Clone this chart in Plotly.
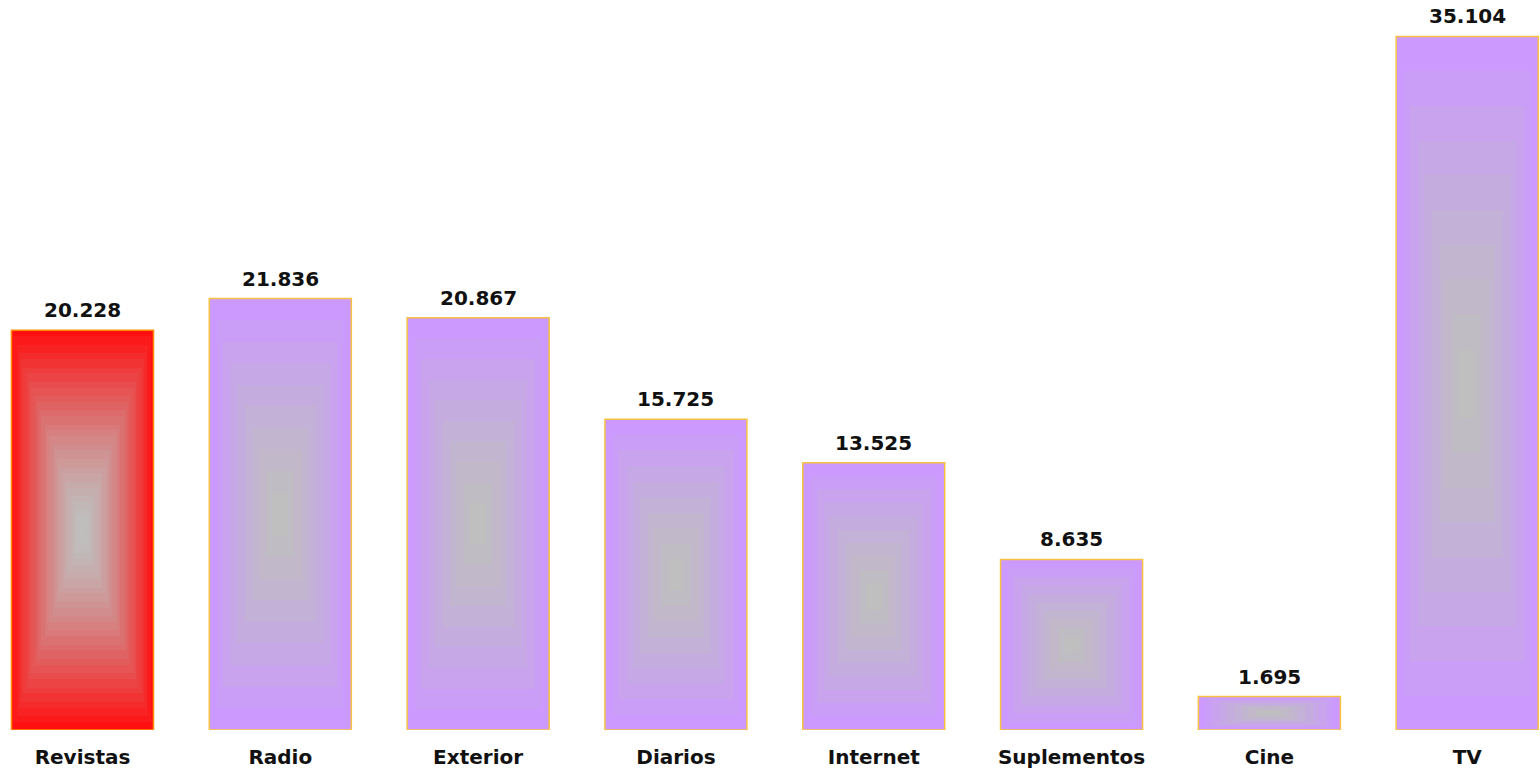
import numpy as np
import plotly.graph_objects as go

# Media spend by channel
categories = ["Revistas", "Radio", "Exterior", "Diarios", "Internet", "Suplementos", "Cine", "TV"]
values = [20228, 21836, 20867, 15725, 13525, 8635, 1695, 35104]
highlight = "Revistas"

BAR_W = 0.718
CENTER_GRAY = "#BFBFBF"
PURPLE = "#CC99FF"
RED = "#FF1010"
GOLD_LINE = "#F7C242"
ORANGE_LINE = "#FF8C00"
FONT = "DejaVu Sans"


def box_gradient(nx, ny, levels, gamma):
    """Concentric-rectangle gradient: 0 at the centre, 1 at the edges, stepped."""
    u = (np.arange(nx) + 0.5) / nx * 2 - 1
    v = (np.arange(ny) + 0.5) / ny * 2 - 1
    t = np.maximum(np.abs(u)[None, :], np.abs(v)[:, None])
    t = np.floor(t * levels) / (levels - 1)
    return t ** gamma


def fmt(v):
    return f"{v:,}".replace(",", ".")


fig = go.Figure()

NX, NY = 72, 140
for i, (cat, val) in enumerate(zip(categories, values)):
    is_hi = cat == highlight
    edge = RED if is_hi else PURPLE
    z = box_gradient(NX, NY, 28 if is_hi else 10, 1.4 if is_hi else 1.2)
    dx = BAR_W / NX
    dy = val / NY
    fig.add_trace(go.Heatmap(
        z=z,
        x0=i - BAR_W / 2 + dx / 2, dx=dx,
        y0=dy / 2, dy=dy,
        colorscale=[[0, CENTER_GRAY], [1, edge]],
        zmin=0, zmax=1,
        zsmooth=False,
        showscale=False,
        hoverinfo="skip",
    ))

fig.add_trace(go.Bar(
    x=list(range(len(categories))),
    y=values,
    width=BAR_W,
    marker=dict(
        color="rgba(0,0,0,0)",
        line=dict(color=[ORANGE_LINE if c == highlight else GOLD_LINE for c in categories], width=1.5),
    ),
    hoverinfo="skip",
))

for i, val in enumerate(values):
    fig.add_annotation(
        x=i, y=val, text=fmt(val), showarrow=False,
        yanchor="bottom", yshift=6,
        font=dict(family=FONT, size=20, color="#111111", weight="bold"),
    )

fig.update_layout(
    width=1540, height=771,
    margin=dict(l=0, r=0, t=0, b=41),
    paper_bgcolor="white", plot_bgcolor="white",
    showlegend=False,
    xaxis=dict(
        range=[-0.417, 7.368],
        tickvals=list(range(len(categories))),
        ticktext=categories,
        tickfont=dict(family=FONT, size=20, color="#111111", weight="bold"),
        ticklabelstandoff=13,
        showgrid=False, zeroline=False, showline=False, ticks="",
    ),
    yaxis=dict(range=[0, 36950], visible=False, showgrid=False, zeroline=False),
)

fig.write_html("out.html")
